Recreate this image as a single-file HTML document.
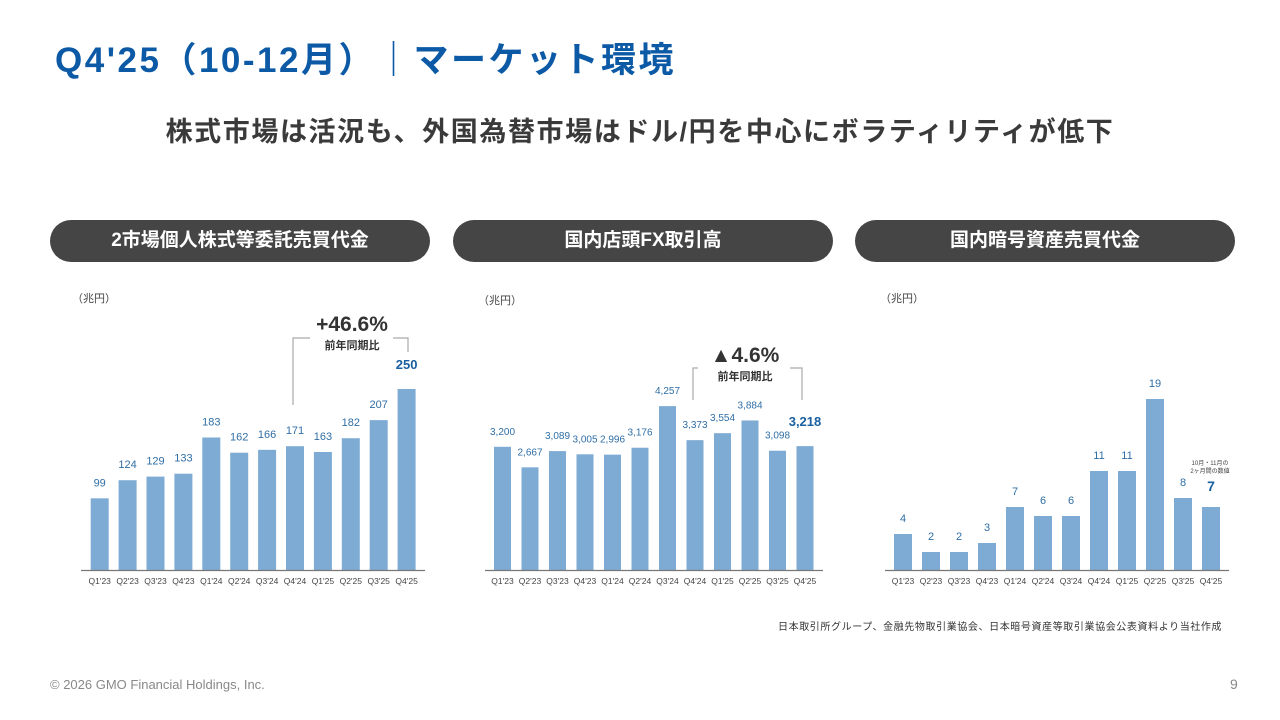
<!DOCTYPE html>
<html><head><meta charset="utf-8">
<style>
body{margin:0;width:1280px;height:720px;background:#fff;overflow:hidden;position:relative;font-family:"Liberation Sans","Noto Sans CJK JP",sans-serif}
.abs{position:absolute;white-space:nowrap}
.pill{position:absolute;top:220px;height:42px;width:380px;border-radius:21px;background:#454545;color:#fff;font-weight:bold;font-size:19px;line-height:42px;text-align:center}
</style></head><body>
<div class="abs" style="left:55px;top:32px;font-size:35px;font-weight:bold;color:#0c5aa6;letter-spacing:2.5px">Q4'25（10-12月）｜マーケット環境</div>
<div class="abs" style="left:0;width:1280px;text-align:center;top:110px;font-size:27px;font-weight:bold;color:#3a3a3a;letter-spacing:1.6px">株式市場は活況も、外国為替市場はドル/円を中心にボラティリティが低下</div>
<div class="pill" style="left:50px">2市場個人株式等委託売買代金</div>
<div class="pill" style="left:453px">国内店頭FX取引高</div>
<div class="pill" style="left:855px">国内暗号資産売買代金</div>
<svg id="chart" width="1280" height="720" style="position:absolute;left:0;top:0"></svg>
<div class="abs" style="left:778px;top:618px;font-size:10px;color:#333;letter-spacing:0.6px">日本取引所グループ、金融先物取引業協会、日本暗号資産等取引業協会公表資料より当社作成</div>
<div class="abs" style="left:50px;top:677px;font-size:13px;color:#888">© 2026 GMO Financial Holdings, Inc.</div>
<div class="abs" style="left:1230px;top:676px;font-size:14px;color:#888">9</div>
<script>
const categories=["Q1'23","Q2'23","Q3'23","Q4'23","Q1'24","Q2'24","Q3'24","Q4'24","Q1'25","Q2'25","Q3'25","Q4'25"];
const stockValues=[99,124,129,133,183,162,166,171,163,182,207,250];
const fxValues=[3200,2667,3089,3005,2996,3176,4257,3373,3554,3884,3098,3218];
const cryptoValues=[4,2,2,3,7,6,6,11,11,19,8,7];
const stockLabels=["99","124","129","133","183","162","166","171","163","182","207","250"];
const fxLabels=["3,200","2,667","3,089","3,005","2,996","3,176","4,257","3,373","3,554","3,884","3,098","3,218"];
const cryptoLabels=["4","2","2","3","7","6","6","11","11","19","8","7"];
const NS="http://www.w3.org/2000/svg";
const svg=document.getElementById('chart');
function mk(tag,attrs,text){const e=document.createElementNS(NS,tag);for(const k in attrs)e.setAttribute(k,attrs[k]);if(text!==undefined)e.textContent=text;svg.appendChild(e);return e;}
function drawChart(name,vals,labels,cfg){
  const base=570;
  const y=v=>base-v*cfg.scale;
  const x=i=>cfg.x0+i*cfg.step;
  const u=mk('text',{x:cfg.unitX,y:cfg.unitY,'font-size':11,fill:'#444'},'（兆円）');
  
  
  vals.forEach((v,i)=>{
    const r=mk('rect',{x:x(i),y:y(v),width:cfg.w,height:v*cfg.scale,fill:'#7eabd4'});
    
    
    const last=i===vals.length-1;
    const t=mk('text',{x:x(i)+cfg.w/2,y:y(v)-(last?cfg.lastOff:12),'text-anchor':'middle','font-size':last?cfg.lastSize:cfg.fs,'font-weight':last?'bold':'normal',fill:last?'#1a5fa0':'#2f6ea5'},labels[i]);
    
    
    const c=mk('text',{x:x(i)+cfg.w/2,y:584,'text-anchor':'middle','font-size':8.5,fill:'#444'},categories[i]);
    
    
  });
  const a=mk('line',{x1:cfg.ax1,x2:cfg.ax2,y1:base+0.5,y2:base+0.5,stroke:'#777','stroke-width':1.2});
  
  
}
drawChart('stock',stockValues,stockLabels,{x0:90.7,step:27.9,w:18,scale:0.724,ax1:81,ax2:425,unitX:72,unitY:302,fs:11,lastSize:13,lastOff:20});
drawChart('fx',fxValues,fxLabels,{x0:494,step:27.5,w:17,scale:0.0385,ax1:485,ax2:823,unitX:478,unitY:304,fs:10,lastSize:13,lastOff:20});
drawChart('crypto',cryptoValues,cryptoLabels,{x0:894,step:28,w:18,scale:9,ax1:885,ax2:1229,unitX:880,unitY:302,fs:11,lastSize:14,lastOff:16});
function g(attrs,name,text){const e=mk(attrs.tag||'text',attrs,text);e.removeAttribute('tag');return e;}
g({tag:'polyline',points:'310,338 293,338 293,405',fill:'none',stroke:'#aaa','stroke-width':1.2},'stock-bracket-left');
g({tag:'polyline',points:'393,338 408,338 408,352',fill:'none',stroke:'#aaa','stroke-width':1.2},'stock-bracket-right');
g({x:352,y:331,'text-anchor':'middle','font-size':21,'font-weight':'bold',fill:'#333'},'stock-yoy-value','+46.6%');
g({x:352,y:349,'text-anchor':'middle','font-size':11,'font-weight':'bold',fill:'#333'},'stock-yoy-caption','前年同期比');
g({tag:'polyline',points:'698,368 693,368 693,400',fill:'none',stroke:'#aaa','stroke-width':1.2},'fx-bracket-left');
g({tag:'polyline',points:'790,368 802,368 802,400',fill:'none',stroke:'#aaa','stroke-width':1.2},'fx-bracket-right');
g({x:745,y:362,'text-anchor':'middle','font-size':21,'font-weight':'bold',fill:'#333'},'fx-yoy-value','▲4.6%');
g({x:745,y:380,'text-anchor':'middle','font-size':11,'font-weight':'bold',fill:'#333'},'fx-yoy-caption','前年同期比');
g({x:1210,y:465,'text-anchor':'middle','font-size':6,fill:'#444'},'crypto-note-1','10月・11月の');
g({x:1210,y:473,'text-anchor':'middle','font-size':6,fill:'#444'},'crypto-note-2','2ヶ月間の数値');
</script>
</body></html>
